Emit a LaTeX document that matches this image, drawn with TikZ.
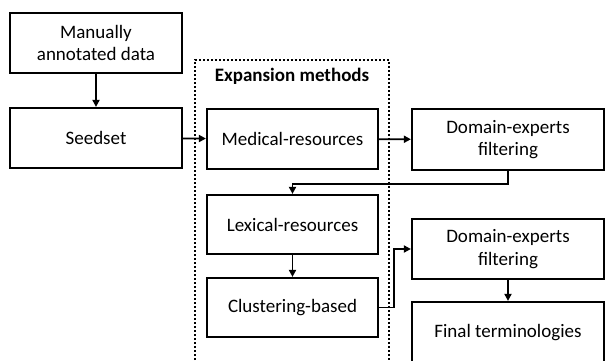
\documentclass[tikz,border=0pt]{standalone}
\usepackage{fontspec}
\setmainfont{Carlito}
\usetikzlibrary{arrows.meta}
\definecolor{boxline}{RGB}{0,0,0}

\begin{document}
\begin{tikzpicture}[x=1pt, y=-1pt,
    stage/.style={draw=boxline, line width=2.2pt, rectangle, align=center, inner sep=0pt,
        font=\fontsize{19}{22.5}\selectfont},
    flow/.style={-{Triangle[length=7pt,width=7pt]}, line width=1.8pt}]
            \clip (0,0) rectangle (606,361);
            \node [stage, minimum width=172, minimum height=60] (manual) at (96,43) {Manually\\annotated data};
            \node [stage, minimum width=172, minimum height=60] (seed) at (96,138) {Seedset};

            % expansion block
            \draw [line width=2pt, dotted] (195,400) -- (195,60) -- (389,60) -- (389,400);
            \node [font=\fontsize{19}{22}\selectfont\bfseries] (expand) at (292,76) {Expansion methods};
            \node [stage, minimum width=171, minimum height=60] (medical) at (292.5,139) {Medical-resources};
            \node [stage, minimum width=171, minimum height=59] (lexical) at (292.5,224.5) {Lexical-resources};
            \node [stage, minimum width=171, minimum height=59] (cluster) at (292.5,307.5) {Clustering-based};

            \node [stage, minimum width=192, minimum height=61] (expert1) at (508,139.5) {Domain-experts\\filtering};
            \node [stage, minimum width=192, minimum height=60] (expert2) at (508,249) {Domain-experts\\filtering};
            \node [stage, minimum width=192, minimum height=62] (final) at (508,333) {Final terminologies};

            \draw [flow] (manual) -- (seed);
            \draw [flow] (seed) -- (medical);
            \draw [flow] (medical) -- (expert1);
            \draw [flow] (expert1.south) -- ++(0,13) -| (lexical.north);
            \draw [flow] (lexical) -- (cluster);
            \draw [flow] (cluster.east) -- ++(15,0) |- (expert2.west);
            \draw [flow] (expert2) -- (final);
        \end{tikzpicture}
\end{document}
